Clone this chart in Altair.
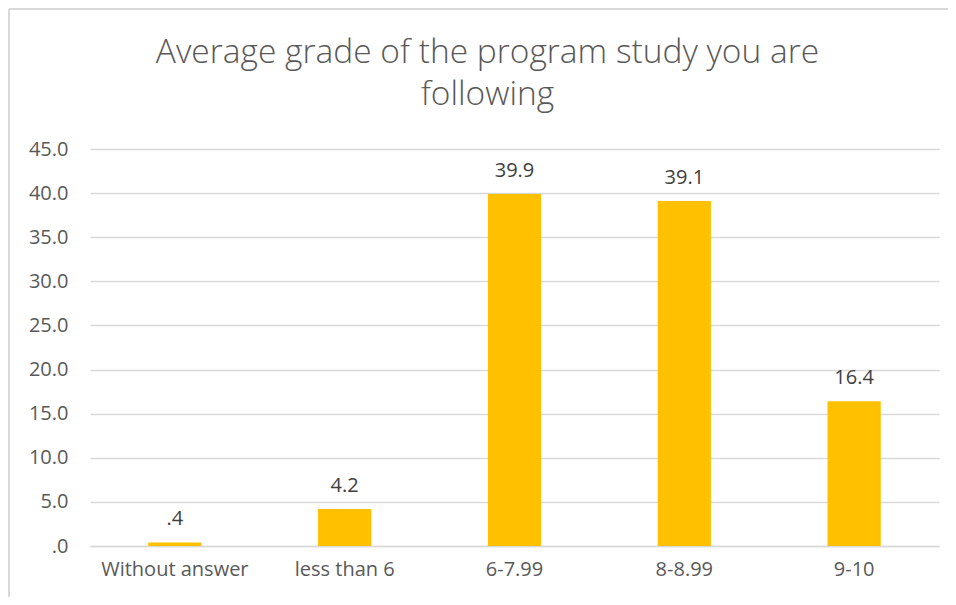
import altair as alt
import pandas as pd

categories = ["Without answer", "less than 6", "6-7.99", "8-8.99", "9-10"]
values = [0.4, 4.2, 39.9, 39.1, 16.4]
y_ticks = [0, 5, 10, 15, 20, 25, 30, 35, 40, 45]
title_lines = ["Average grade of the program study you are", "following"]

df = pd.DataFrame({"cat": categories, "val": values})
title_df = pd.DataFrame({"t": [0]})

FONT = "Open Sans"
W, H = 849, 397

x_enc = alt.X("cat:N", sort=categories, title=None,
              scale=alt.Scale(paddingInner=0.6865, paddingOuter=0.343),
              axis=alt.Axis(labelAngle=0, labelFont=FONT, labelFontSize=20,
                            labelColor="#595959", labelPadding=13, ticks=False,
                            domain=True, domainColor="#d9d9d9", domainWidth=1.5,
                            grid=False))
y_enc = alt.Y("val:Q", title=None,
              scale=alt.Scale(domain=[0, 45], nice=False),
              axis=alt.Axis(values=y_ticks, labelFont=FONT, labelFontSize=20,
                            labelColor="#595959", labelPadding=22, ticks=False,
                            domain=False, grid=True, gridColor="#d9d9d9",
                            gridWidth=1.3,
                            labelExpr="datum.value == 0 ? '.0' : format(datum.value, '.1f')"))

bars = alt.Chart(df).mark_bar(color="#FFC000").encode(x=x_enc, y=y_enc)

labels = alt.Chart(df).transform_calculate(
    lbl="datum.val < 1 ? slice(format(datum.val, '.1f'), 1) : format(datum.val, '.1f')"
).mark_text(font=FONT, fontSize=20, color="#404040", baseline="alphabetic",
            dy=-17).encode(x=alt.X("cat:N", sort=categories), y="val:Q",
                           text="lbl:N")

title = alt.Chart(title_df).mark_text(
    text=title_lines, font=FONT, fontSize=33.5, fontWeight=300, color="#595959",
    align="center", baseline="alphabetic", lineHeight=42, clip=False
).encode(x=alt.value(W / 2 - 27), y=alt.value(-86))

border = alt.Chart(title_df).mark_rule(color="#d9d9d9", strokeWidth=2, clip=False).encode(
    x=alt.value(-81), x2=alt.value(W + 60), y=alt.value(-140), y2=alt.value(-140))
border_l = alt.Chart(title_df).mark_rule(color="#d9d9d9", strokeWidth=2, clip=False).encode(
    x=alt.value(-81), x2=alt.value(-81), y=alt.value(-140), y2=alt.value(H + 60))

chart = alt.layer(border, border_l, bars, labels, title).properties(
    width=W, height=H,
    autosize=alt.AutoSizeParams(type="none"),
    padding={"left": 82, "top": 141, "right": 9, "bottom": 51},
).configure_view(stroke=None)

chart.save("out.html", embed_options={"renderer": "svg", "actions": False})
